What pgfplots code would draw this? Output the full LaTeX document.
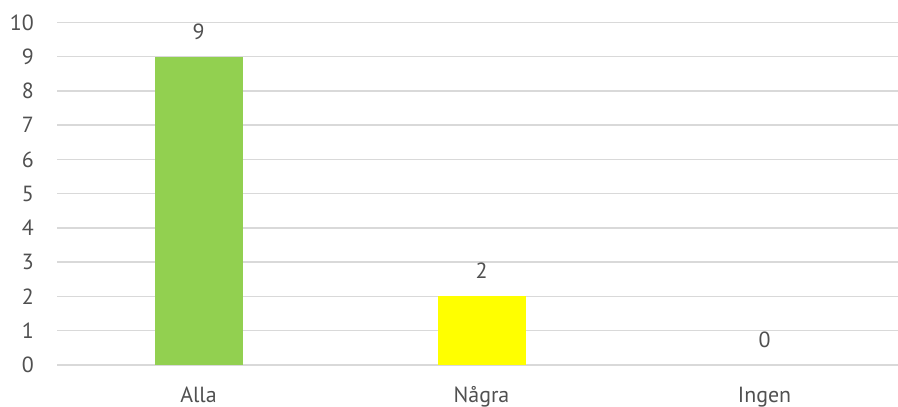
\documentclass[border=0pt]{standalone}
\usepackage{fontspec}
\setmainfont{PT Sans}
\usepackage{pgfplots}
\pgfplotsset{compat=1.18}
\definecolor{txt}{HTML}{505050}
\definecolor{grd}{HTML}{D9D9D9}
\definecolor{bgreen}{HTML}{92D050}
\definecolor{byellow}{HTML}{FFFF00}
\begin{document}
\begin{tikzpicture}
\useasboundingbox (-57bp,-42bp) rectangle (841bp,365bp);
\begin{axis}[
  at={(0,0)}, anchor=south west,
  scale only axis,
  width=841bp, height=342.5bp,
  xmin=-0.5, xmax=2.4717,
  ymin=0, ymax=10,
  ytick={0,1,...,10},
  xtick={0,1,2},
  xticklabels={Alla,Några,Ingen},
  axis line style={draw=none},
  major tick length=0pt,
  ymajorgrids,
  grid style={grd, line width=1.5bp},
  /pgf/number format/assume math mode=true,
  tick label style={font=\fontsize{22}{26}\selectfont, text=txt, inner sep=0pt},
  yticklabel style={anchor=east, xshift=-23bp},
  xticklabel style={anchor=base, yshift=-37bp},
  ybar, bar width=88bp, bar shift=0pt,
  nodes near coords,
  nodes near coords style={font=\fontsize{22}{26}\selectfont, text=txt, anchor=base, inner sep=0pt, yshift=17.5bp},
  clip=false,
]
\addplot[fill=bgreen, draw=none] coordinates {(0,9)};
\addplot[fill=byellow, draw=none] coordinates {(1,2)};
\addplot[fill=none, draw=none] coordinates {(2,0)};
\end{axis}
\end{tikzpicture}
\end{document}
